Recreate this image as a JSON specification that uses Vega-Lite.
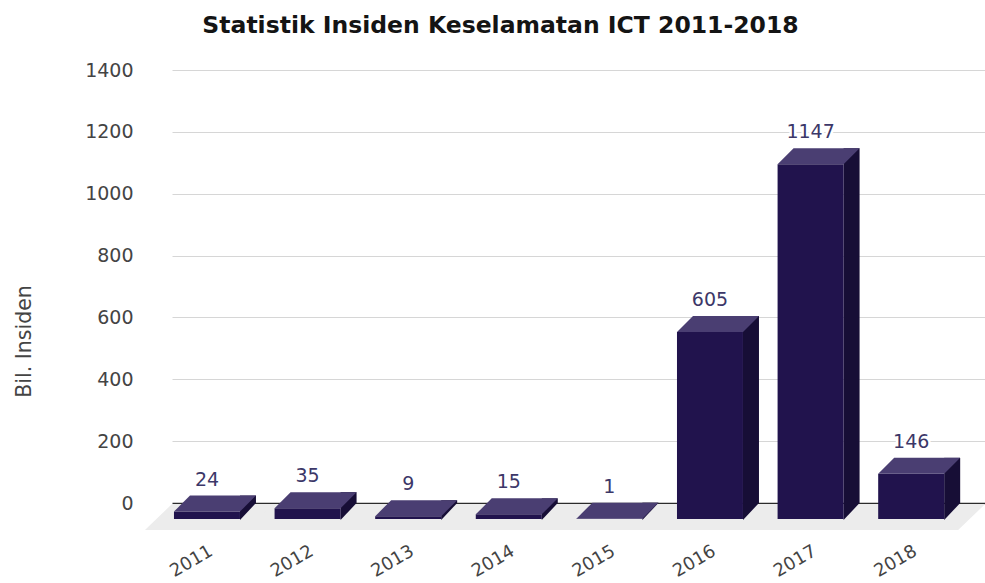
{
  "$schema": "https://vega.github.io/schema/vega-lite/v6.json",
  "width": 813,
  "height": 433,
  "autosize": "none",
  "padding": {"left": 172, "top": 70, "right": 0, "bottom": 80},
  "background": "white",
  "title": {
    "text": "Statistik Insiden Keselamatan ICT 2011-2018",
    "font": "DejaVu Sans",
    "fontSize": 23.5,
    "fontWeight": "bold",
    "color": "#141414",
    "anchor": "middle",
    "frame": "group",
    "dx": -78,
    "offset": 24
  },
  "data": {
    "values": [
      {"year": "2011", "value": 24},
      {"year": "2012", "value": 35},
      {"year": "2013", "value": 9},
      {"year": "2014", "value": 15},
      {"year": "2015", "value": 1},
      {"year": "2016", "value": 605},
      {"year": "2017", "value": 1147},
      {"year": "2018", "value": 146}
    ]
  },
  "encoding": {
    "x": {
      "field": "year",
      "type": "ordinal",
      "scale": {"type": "band", "paddingInner": 0.344, "paddingOuter": 0.2127, "align": 0.42, "round": false},
      "axis": {
        "title": null,
        "domain": false,
        "ticks": false,
        "tickSize": 0,
        "grid": false,
        "labelAngle": -30,
        "labelAlign": "right",
        "labelBaseline": "top",
        "labelPadding": 39,
        "labelOffset": -16,
        "labelFont": "DejaVu Sans",
        "labelFontSize": 18,
        "labelColor": "#444444"
      }
    },
    "y": {
      "field": "value",
      "type": "quantitative",
      "scale": {"domain": [0, 1400], "nice": false, "zero": true},
      "axis": {
        "title": "Bil. Insiden",
        "values": [0, 200, 400, 600, 800, 1000, 1200, 1400],
        "format": "d",
        "domain": false,
        "ticks": false,
        "tickSize": 0,
        "labelPadding": 39,
        "labelFont": "DejaVu Sans",
        "labelFontSize": 19,
        "labelColor": "#444444",
        "gridColor": {"condition": {"test": "datum.value === 0", "value": "#2b2b2b"}, "value": "#d6d6d6"},
        "gridWidth": {"condition": {"test": "datum.value === 0", "value": 1.5}, "value": 1},
        "titleFont": "DejaVu Sans",
        "titleFontSize": 20.5,
        "titleFontWeight": "normal",
        "titleColor": "#444444",
        "titleAngle": -90,
        "titleAlign": "center",
        "titleBaseline": "bottom",
        "titleX": -138,
        "titleY": 271
      }
    }
  },
  "layer": [
    {
      "mark": {"type": "point", "shape": "M-51,1L58,1L31,27L-78,27Z", "size": 4, "filled": true, "color": "#ececec", "opacity": 1, "strokeWidth": 0},
      "encoding": {"y": {"datum": 0, "type": "quantitative"}}
    },
    {
      "mark": {"type": "bar", "width": 16, "xOffset": 25, "color": "#170e36"}
    },
    {
      "mark": {"type": "point", "shape": "M17,0L33,0L17,17Z", "size": 4, "filled": true, "color": "#170e36", "opacity": 1, "strokeWidth": 0},
      "encoding": {"y": {"datum": 0, "type": "quantitative"}}
    },
    {
      "mark": {"type": "bar", "xOffset": -16, "yOffset": 16, "y2Offset": 16, "color": "#21134d"}
    },
    {
      "mark": {"type": "point", "shape": "M-49,16L17,16L33,0L-33,0Z", "size": 4, "filled": true, "color": "#4a3e72", "opacity": 1, "strokeWidth": 0}
    },
    {
      "mark": {"type": "text", "dx": -16, "dy": -10, "baseline": "alphabetic", "align": "center", "font": "DejaVu Sans", "fontSize": 19, "color": "white", "stroke": "white", "strokeWidth": 5},
      "encoding": {"text": {"field": "value", "type": "quantitative"}}
    },
    {
      "mark": {"type": "text", "dx": -16, "dy": -10, "baseline": "alphabetic", "align": "center", "font": "DejaVu Sans", "fontSize": 19, "color": "#3c3768"},
      "encoding": {"text": {"field": "value", "type": "quantitative"}}
    }
  ],
  "config": {"view": {"stroke": null}}
}
